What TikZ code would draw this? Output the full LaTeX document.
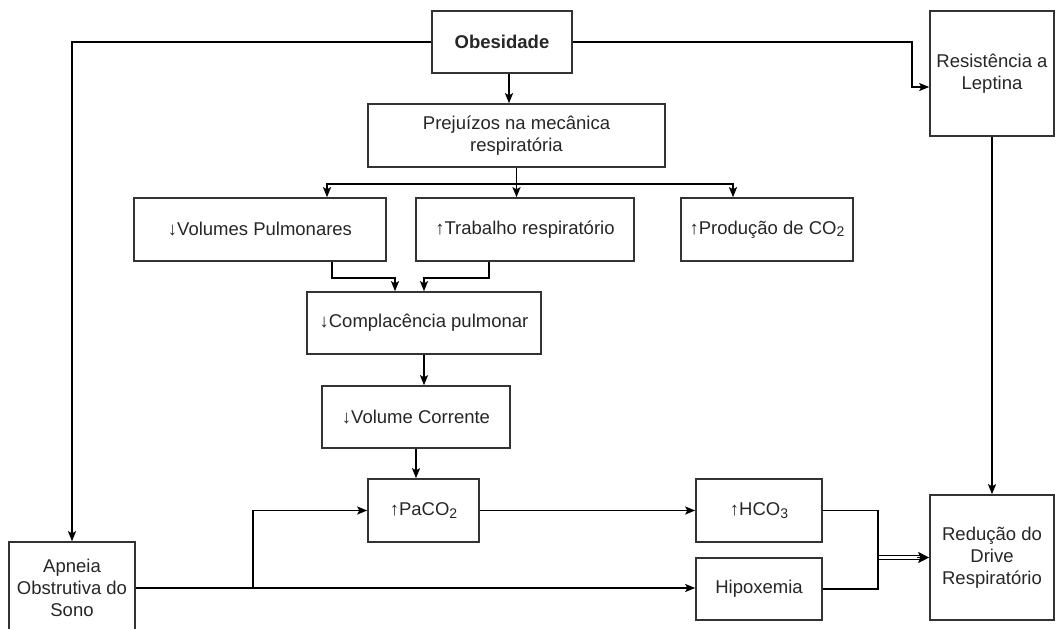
\documentclass[tikz,border=0pt]{standalone}
\usepackage{fontspec}
\setmainfont{Liberation Sans}
\usetikzlibrary{arrows.meta}

\newcommand{\subs}[1]{\raisebox{-0.25ex}{\fontsize{14}{14}\selectfont #1}}

\begin{document}
\begin{tikzpicture}[
        ->, % Arrow style
        > = {Stealth[length=10pt, width=8pt, inset=2pt]}, % arrow head style
        x = 1pt, y = -1pt, % one unit per pixel, y downwards
        line width = 1.6pt, % line style
        font = \fontsize{18.5}{22}\selectfont
      ]

      \tikzstyle{box}=[rectangle, draw=black!80, text=black!85, align=center, inner sep=0pt]

      \useasboundingbox (0,0) rectangle (1055,629);

      \node[box, minimum width=140pt, minimum height=62pt] (obes) at (502,42) {\textbf{Obesidade}};
      \node[box, minimum width=124pt, minimum height=125pt] (res) at (992,73.5) {Resistência a\\Leptina};
      \node[box, minimum width=297pt, minimum height=63pt] (prej) at (516.5,135.5) {Prejuízos na mecânica\\respiratória};
      \node[box, minimum width=252pt, minimum height=63pt] (vol) at (260,229.5) {↓Volumes Pulmonares};
      \node[box, minimum width=218pt, minimum height=63pt] (trab) [right of=vol, node distance=265pt] {↑Trabalho respiratório};
      \node[box, minimum width=172pt, minimum height=63pt] (prod) [right of=trab, node distance=242pt] {↑Produção de CO\subs{2}};
      \node[box, minimum width=234pt, minimum height=62pt] (compl) at (424,323) {↓Complacência pulmonar};
      \node[box, minimum width=188pt, minimum height=62pt] (vc) at (416,417) {↓Volume Corrente};
      \node[box, minimum width=111pt, minimum height=63pt] (paco) at (423.5,510.5) {↑PaCO\subs{2}};
      \node[box, minimum width=126pt, minimum height=63pt] (hco) at (759,510.5) {↑HCO\subs{3}};
      \node[box, minimum width=126pt, minimum height=62pt] (hip) [below of=hco, node distance=78.5pt] {Hipoxemia};
      \node[box, minimum width=124pt, minimum height=125pt] (red) [below of=res, node distance=484pt] {Redução do\\Drive\\Respiratório};
      \node[box, minimum width=126pt, minimum height=92pt] (apn) at (72,588) {Apneia\\Obstrutiva do\\Sono};

      % obesidade
      \draw (obes.west) -| (apn.north);
      \draw (obes.east) -| ([xshift=-17pt, yshift=-13.5pt]res.west) -- ([yshift=-13.5pt]res.west);
      \draw ([xshift=7pt]obes.south) -- ([xshift=-7.5pt]prej.north);

      % mecanica respiratoria
      \coordinate (bus) at ([yshift=-16pt]prej.south);
      \draw (prej.south) -- (trab.north -| prej.south);
      \draw (bus) -| ([xshift=67pt]vol.north);
      \draw (bus) -| ([xshift=-34pt]prod.north);
      \draw ([xshift=72pt]vol.south) -- ++(0,16) -| ([xshift=-29pt]compl.north);
      \draw ([xshift=-36pt]trab.south) -- ++(0,16) -| (compl.north);
      \draw (compl.south) -- ([xshift=8pt]vc.north);
      \draw (vc.south) -- ([xshift=-7.5pt]paco.north);

      % apneia
      \draw (apn.east) -- (apn.east -| hip.west);
      \draw ([xshift=117pt]apn.east) |- (paco.west);
      \draw (paco.east) -- (hco.west);

      % drive respiratorio (double arrow)
      \coordinate (jn) at ([xshift=55pt]hco.east);
      \draw[-] (hco.east) -- (jn) |- (hip.east);
      \draw[-, line width=1.3pt] ([yshift=2.3pt]jn |- red.west) -- ([xshift=-8pt, yshift=2.3pt]red.west);
      \draw[-, line width=1.3pt] ([yshift=-2.3pt]jn |- red.west) -- ([xshift=-8pt, yshift=-2.3pt]red.west);
      \draw[-{Stealth[length=11pt, width=11pt, inset=2pt]}, line width=1pt] ([xshift=-12pt]red.west) -- (red.west);
      \draw (res.south) -- (red.north);

    \end{tikzpicture}
\end{document}
